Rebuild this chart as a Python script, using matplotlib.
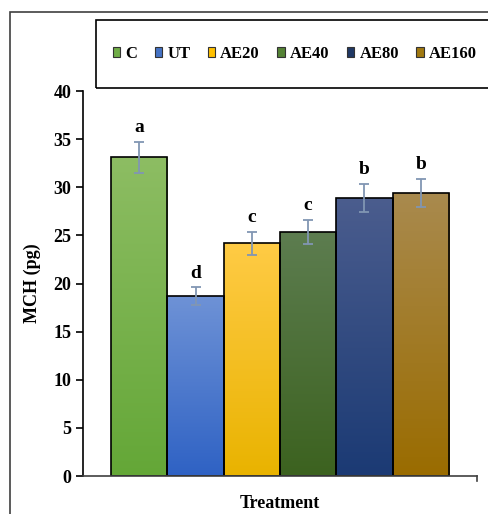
import numpy as np
import matplotlib.pyplot as plt
from matplotlib.patches import Rectangle, Patch
from matplotlib.colors import LinearSegmentedColormap

# data
groups = ["C", "UT", "AE20", "AE40", "AE80", "AE160"]
mch = [33.1, 18.7, 24.2, 25.4, 28.9, 29.4]
err = [1.65, 0.9, 1.2, 1.25, 1.45, 1.5]
letters = ["a", "d", "c", "c", "b", "b"]

# gradient colours (top, bottom) and legend colour
tops = ["#8dbd63", "#6e92d6", "#ffcb45", "#5d7d50", "#4b5d8e", "#a98a4e"]
bottoms = ["#64a737", "#2f62c4", "#e9b300", "#3c621f", "#1b3a74", "#9a6c00"]
legend_cols = ["#70ad47", "#4472c4", "#ffc000", "#548235", "#203864", "#a07810"]

plt.rcParams['font.family'] = ['Liberation Serif', 'DejaVu Serif']
plt.rcParams['font.weight'] = 'bold'

fig = plt.figure(figsize=(4.89, 5.14), dpi=100)
ax = fig.add_axes([0.1697, 0.0739, 0.8058, 0.749])

x = np.arange(len(groups))
bars = ax.bar(x, mch, width=1.0, color=bottoms, edgecolor="black", linewidth=1.2, zorder=2)

# vertical gradient inside each bar
grad = np.linspace(0, 1, 256).reshape(-1, 1)
for b, t, bt in zip(bars, tops, bottoms):
    cmap = LinearSegmentedColormap.from_list("g", [bt, t])
    x0, w, h = b.get_x(), b.get_width(), b.get_height()
    im = ax.imshow(grad, cmap=cmap, origin="lower", aspect="auto",
                   extent=[x0, x0 + w, 0, h], zorder=2.1)
    im.set_clip_path(b)
    b.set_facecolor("none")
    b.set_zorder(2.2)

ax.errorbar(x, mch, yerr=err, fmt="none", ecolor="#8196b3", elinewidth=1.3,
            capsize=3.5, capthick=1.3, zorder=3)

for xi, v, e, l in zip(x, mch, err, letters):
    ax.text(xi, v + e + 0.6, l, ha="center", va="bottom", fontsize=14, fontweight="bold")

ax.set_xlim(-1, 6)
ax.set_ylim(0, 40)
ax.set_yticks(range(0, 41, 5))
ax.set_xticks([])
ax.tick_params(axis="y", labelsize=13, length=5, width=1.2, direction="out")
for lab in ax.get_yticklabels():
    lab.set_fontweight("bold")
ax.spines["top"].set_visible(False)
ax.spines["right"].set_visible(False)
ax.spines["left"].set_linewidth(1.2)
ax.spines["bottom"].set_linewidth(1.2)
ax.spines["bottom"].set_color("#404040")
ax.plot([6, 6], [0, -0.5], color="#404040", lw=1.2, clip_on=False)

ax.set_ylabel("MCH (pg)", fontsize=13, fontweight="bold", labelpad=9)
ax.set_xlabel("Treatment", fontsize=13, fontweight="bold", labelpad=14)

# outer frame and legend frame
fig.add_artist(Rectangle((0.0204, -0.1), 1.1, 1.0767, transform=fig.transFigure,
                         fill=False, edgecolor="#404040", lw=1.2))
fig.add_artist(Rectangle((0.196, 0.8288), 0.9, 0.1323, transform=fig.transFigure,
                         fill=False, edgecolor="black", lw=1.2))

handles = [Patch(facecolor=c, edgecolor="#333333", lw=0.8) for c in legend_cols]
fig.legend(handles, groups, loc="center", bbox_to_anchor=(0.603, 0.895), ncol=6,
           frameon=False, prop={"size": 12, "weight": "bold"}, handlelength=0.45,
           handleheight=0.55, handletextpad=0.3, columnspacing=1.05, borderaxespad=0)

fig.savefig("out.png", dpi=100)
